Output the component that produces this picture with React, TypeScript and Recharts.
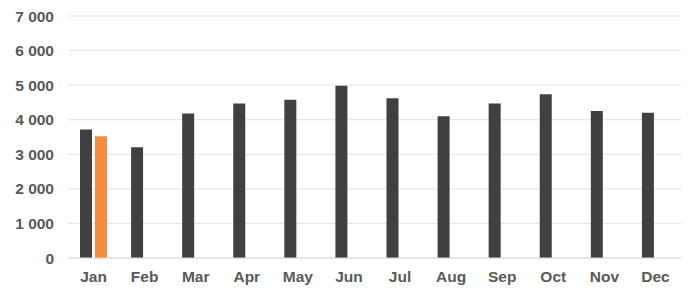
import React from 'react';
import { BarChart, Bar, XAxis, YAxis, CartesianGrid } from 'recharts';

const months = ['Jan', 'Feb', 'Mar', 'Apr', 'May', 'Jun', 'Jul', 'Aug', 'Sep', 'Oct', 'Nov', 'Dec'];
const seriesA = [3720, 3200, 4180, 4470, 4580, 4980, 4620, 4100, 4470, 4740, 4255, 4200];
const seriesB: (number | null)[] = [3520, null, null, null, null, null, null, null, null, null, null, null];
const yTicks = [0, 1000, 2000, 3000, 4000, 5000, 6000, 7000];

const data = months.map((m, i) => ({ month: m, a: seriesA[i], b: seriesB[i] }));

const fmt = (v: number) => String(v).replace(/\B(?=(\d{3})+(?!\d))/g, ' ');

const tickStyle = {
  fill: '#595959',
  fontSize: 15.5,
  fontWeight: 700,
  fontFamily: '"Liberation Sans", Arial, sans-serif',
};

export default function App() {
  return (
    <div style={{ position: 'absolute', left: 0, top: 0, width: 700, height: 296, background: '#fff' }}>
      <BarChart
        width={700}
        height={296}
        data={data}
        margin={{ top: 16, right: 19, left: 0, bottom: 0 }}
        barSize={12}
        barGap={3}
      >
        <CartesianGrid vertical={false} stroke="#e3e3e3" />
        <XAxis
          dataKey="month"
          height={38}
          axisLine={{ stroke: '#d9d9d9' }}
          tickLine={false}
          tickSize={0}
          tickMargin={13}
          tick={tickStyle}
          interval={0}
        />
        <YAxis
          domain={[0, 7000]}
          ticks={yTicks}
          tickFormatter={fmt}
          axisLine={false}
          tickLine={false}
          tickSize={0}
          tickMargin={14}
          width={68}
          tick={tickStyle}
        />
        <Bar dataKey="a" fill="#404040" isAnimationActive={false} />
        <Bar dataKey="b" fill="#F58D3F" isAnimationActive={false} />
      </BarChart>
    </div>
  );
}
